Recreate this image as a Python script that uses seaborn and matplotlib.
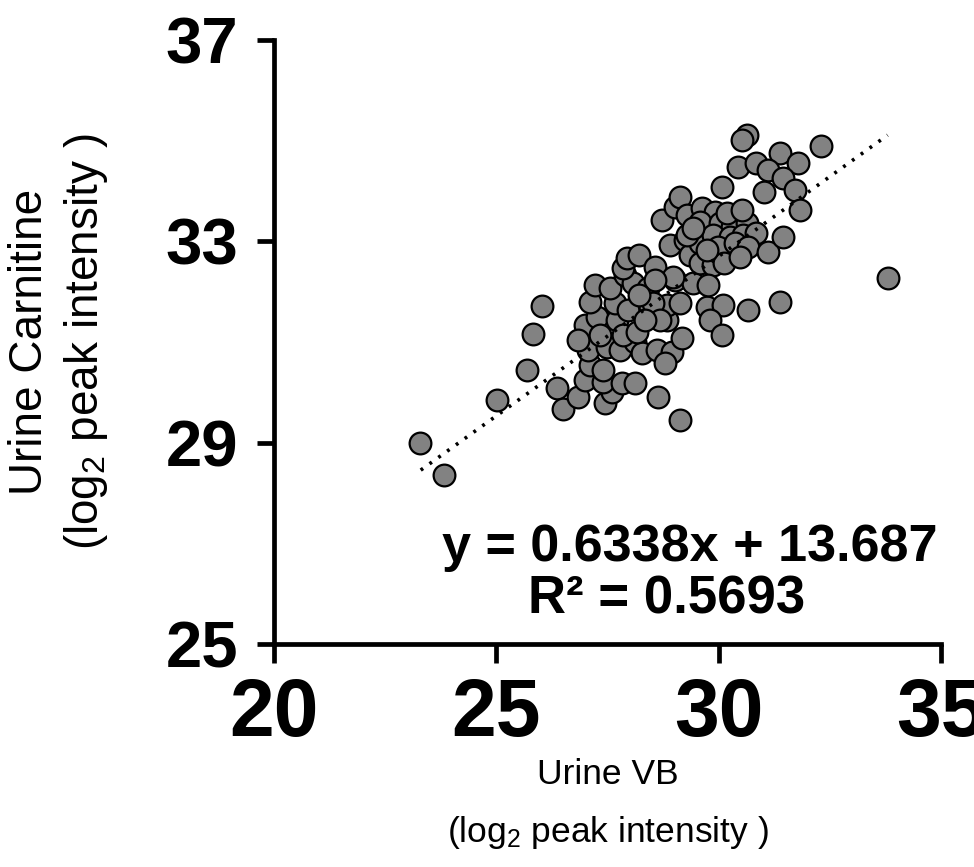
import numpy as np
import pandas as pd
import seaborn as sns
import matplotlib.pyplot as plt

# urine VB vs carnitine (log2 peak intensity)
vb = [23.28, 23.82, 25.01, 25.69, 25.82, 26.02, 26.36, 26.49, 26.83, 26.99,
      27.44, 27.60, 27.39, 27.82, 28.11, 27.10, 27.39, 27.06, 27.48, 27.78,
      28.11, 28.27, 28.61, 28.94, 28.79, 28.63, 29.12, 26.99, 27.26, 27.71,
      27.84, 28.16, 28.83, 29.17, 27.10, 27.66, 27.96, 28.45, 28.83, 29.12,
      27.21, 27.55, 27.89, 28.07, 28.40, 29.01, 29.42, 29.73, 27.84, 27.93,
      28.22, 28.56, 28.97, 28.90, 29.24, 28.72, 29.01, 29.12, 29.28, 29.35,
      29.57, 29.57, 29.87, 29.96, 29.62, 29.91, 29.57, 30.02, 30.31, 30.63,
      29.28, 29.87, 30.25, 30.54, 30.85, 29.98, 30.36, 30.65, 31.10, 30.18,
      30.52, 30.07, 30.63, 30.52, 31.37, 31.78, 30.43, 30.85, 31.10, 31.44,
      31.03, 31.71, 31.82, 31.44, 32.31, 33.80, 30.09, 30.65, 31.37, 29.80,
      30.07, 30.13, 30.47, 29.75, 28.52, 29.42, 29.73, 28.56, 28.22, 28.67,
      28.34, 27.33, 26.83]
carnitine = [28.99, 28.35, 29.84, 30.44, 31.16, 31.71, 30.08, 29.66, 29.90, 30.24,
             29.78, 30.00, 30.20, 30.18, 30.18, 30.54, 30.44, 30.84, 30.90, 30.84,
             31.00, 30.78, 30.84, 30.80, 30.58, 29.90, 29.45, 31.33, 31.49, 31.43,
             31.14, 31.20, 31.43, 31.08, 31.79, 31.77, 31.63, 31.69, 31.73, 31.77,
             32.13, 32.07, 32.33, 32.17, 32.07, 32.23, 32.17, 31.69, 32.47, 32.67,
             32.73, 32.49, 32.29, 32.92, 33.02, 33.42, 33.68, 33.88, 33.52, 32.73,
             32.96, 32.57, 32.53, 32.96, 33.66, 33.58, 33.38, 33.36, 33.28, 33.36,
             33.12, 33.12, 33.08, 33.12, 33.16, 32.88, 32.96, 32.88, 32.79, 33.56,
             33.62, 34.08, 35.11, 35.01, 34.75, 34.55, 34.48, 34.55, 34.42, 34.26,
             33.98, 34.02, 33.62, 33.08, 34.89, 32.27, 31.73, 31.63, 31.79, 31.43,
             31.14, 32.57, 32.69, 32.13, 31.77, 33.26, 32.82, 32.23, 31.93, 31.43,
             31.43, 31.14, 31.04]

# trendline as printed on the chart
slope = 0.6338
intercept = 13.687
fit_x = np.array([23.3, 33.8])
x_ticks = [20, 25, 30, 35]
y_ticks = [25, 29, 33, 37]

df = pd.DataFrame({"vb": vb, "carnitine": carnitine})

sns.set_style("ticks")
plt.rcParams['font.family'] = ['Liberation Sans', 'DejaVu Sans']
plt.rcParams['mathtext.fontset'] = 'custom'
plt.rcParams['mathtext.rm'] = 'Liberation Sans'
plt.rcParams['mathtext.default'] = 'regular'
plt.rcParams['text.color'] = 'black'
plt.rcParams['axes.labelcolor'] = 'black'

fig = plt.figure(figsize=(9.74, 8.67), dpi=100)
ax = fig.add_axes([0.2813, 0.2572, 0.6848, 0.6967])

sns.scatterplot(data=df, x="vb", y="carnitine", ax=ax, s=245,
                color="#828282", edgecolor="black", linewidth=1.6, zorder=3)
ax.plot(fit_x, slope * fit_x + intercept, color="black", lw=2.6,
        linestyle=(0, (0.8, 2.2)), zorder=4)

ax.set_xlim(20, 35)
ax.set_ylim(25, 37)
ax.set_xticks(x_ticks)
ax.set_yticks(y_ticks)
sns.despine(ax=ax)
for s in ["left", "bottom"]:
    ax.spines[s].set_linewidth(3.4)
    ax.spines[s].set_color("black")
ax.tick_params(axis="y", direction="out", length=12, width=3.4, pad=14,
               labelsize=47, colors="black")
ax.tick_params(axis="x", direction="out", length=14, width=3.4, pad=10,
               labelsize=58, colors="black")
for lab in ax.get_xticklabels() + ax.get_yticklabels():
    lab.set_fontweight("bold")

ax.set_xlabel("Urine VB\n(log$_2$ peak intensity )", fontsize=25.5,
              linespacing=1.85, labelpad=3)
ax.set_ylabel("Urine Carnitine\n(log$_2$ peak intensity )", fontsize=33,
              linespacing=1.26, labelpad=40)

ax.text(0.624, 0.159, "y = 0.6338x + 13.687", transform=ax.transAxes,
        ha="center", va="center", fontsize=37.5, fontweight="bold")
ax.text(0.588, 0.073, "R² = 0.5693", transform=ax.transAxes,
        ha="center", va="center", fontsize=38, fontweight="bold")

fig.savefig("out.png", dpi=100)
